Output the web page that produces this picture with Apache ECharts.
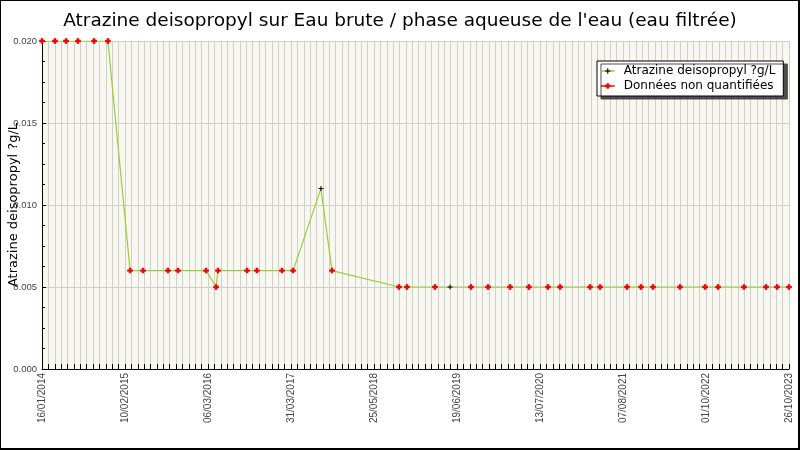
<!DOCTYPE html>
<html>
<head>
<meta charset="utf-8">
<script src="https://cdn.jsdelivr.net/npm/echarts@6/dist/echarts.min.js"></script>
<style>
  html, body { margin: 0; padding: 0; background: #fff; }
  #frame { position: absolute; left: 0; top: 0; width: 800px; height: 450px; box-sizing: border-box;
           border-left: 1px solid #000; border-top: 1px solid #000; border-right: 2px solid #000; border-bottom: 2px solid #000; }
  #chart { position: absolute; left: 0; top: 0; width: 800px; height: 450px; }
</style>
</head>
<body>
<div id="chart"></div>
<div id="frame"></div>
<script>
// ---- data ----
const titleText = "Atrazine deisopropyl sur Eau brute / phase aqueuse de l'eau (eau filtrée)";
const seriesName = "Atrazine deisopropyl ?g/L";
const nqName = "Données non quantifiées";
const startDate = "2014-01-16";
const endDate = "2023-10-26";
const tickLabels = ["16/01/2014", "10/02/2015", "06/03/2016", "31/03/2017", "25/05/2018",
                    "19/06/2019", "13/07/2020", "07/08/2021", "01/10/2022", "26/10/2023"];
const sampleDates = [
  "2014-01-16", "2014-03-19", "2014-05-11", "2014-07-07", "2014-09-22", "2014-11-27",
  "2015-03-13", "2015-05-14", "2015-09-10", "2015-10-28",
  "2016-03-10", "2016-04-27", "2016-05-06", "2016-09-22", "2016-11-08",
  "2017-03-08", "2017-04-30", "2017-09-10", "2017-11-02",
  "2018-09-18", "2018-10-26",
  "2019-03-09", "2019-05-20", "2019-08-28", "2019-11-18",
  "2020-03-02", "2020-05-31", "2020-08-30", "2020-10-27",
  "2021-03-19", "2021-05-06", "2021-09-12", "2021-11-18",
  "2022-01-14", "2022-05-23", "2022-09-20", "2022-11-21",
  "2023-03-25", "2023-07-08", "2023-08-30", "2023-10-26"
];
const sampleValues = [
  0.020, 0.020, 0.020, 0.020, 0.020, 0.020,
  0.006, 0.006, 0.006, 0.006,
  0.006, 0.005, 0.006, 0.006, 0.006,
  0.006, 0.006, 0.011, 0.006,
  0.005, 0.005,
  0.005, 0.005, 0.005, 0.005,
  0.005, 0.005, 0.005, 0.005,
  0.005, 0.005, 0.005, 0.005,
  0.005, 0.005, 0.005, 0.005,
  0.005, 0.005, 0.005, 0.005
];
// 1 = quantified (black cross only), 0 = non quantified (red marker)
const quantified = [
  0, 0, 0, 0, 0, 0,
  0, 0, 0, 0,
  0, 0, 0, 0, 0,
  0, 0, 1, 0,
  0, 0,
  0, 1, 0, 0,
  0, 0, 0, 0,
  0, 0, 0, 0,
  0, 0, 0, 0,
  0, 0, 0, 0
];
const labelSteps = 9;        // labelled intervals on the date axis
const minorPerLabel = 13;    // grid lines per labelled interval

// ---- helpers ----
const DAY = 86400000;
function dayOffset(s) {
  const p = s.split('-').map(Number);
  const q = startDate.split('-').map(Number);
  return (Date.UTC(p[0], p[1] - 1, p[2]) - Date.UTC(q[0], q[1] - 1, q[2])) / DAY;
}
const spanDays = dayOffset(endDate);
const stepDays = spanDays / (labelSteps * minorPerLabel);

const mainData = sampleDates.map((d, i) => [dayOffset(d), sampleValues[i]]);
const nqData = sampleDates.map((d, i) => quantified[i] ? [dayOffset(d), null] : [dayOffset(d), sampleValues[i]]);

const plusPath = 'path://M2,0L3,0L3,2L5,2L5,3L3,3L3,5L2,5L2,3L0,3L0,2L2,2Z';
const redPath = 'path://M2,0L5,0L5,2L7,2L7,5L5,5L5,7L2,7L2,5L0,5L0,2L2,2Z';

const chart = echarts.init(document.getElementById('chart'), null, { renderer: 'canvas' });
chart.setOption({
  animation: false,
  backgroundColor: '#ffffff',
  title: {
    text: titleText,
    left: 'center',
    top: 7,
    textStyle: { fontFamily: 'DejaVu Sans', fontSize: 18.5, fontWeight: 'normal', color: '#000' }
  },
  legend: {
    orient: 'vertical',
    left: 597,
    top: 61,
    width: 187,
    padding: [4, 8, 4, 3],
    itemGap: 3,
    itemWidth: 14,
    itemHeight: 7,
    backgroundColor: '#ffffff',
    borderColor: '#000',
    borderWidth: 1,
    shadowColor: 'rgba(60,60,60,0.9)',
    shadowBlur: 0,
    shadowOffsetX: 4,
    shadowOffsetY: 3,
    textStyle: { fontFamily: 'DejaVu Sans', fontSize: 12, color: '#000', padding: [0, 0, 0, 4] },
    data: [
      { name: seriesName, lineStyle: { color: '#9acd32', width: 1.5, opacity: 1 } },
      { name: nqName, lineStyle: { color: '#ff0000', width: 1.5, opacity: 1 } }
    ]
  },
  grid: { left: 42, right: 11, top: 41, bottom: 81, show: true, backgroundColor: '#f8f8f0', borderWidth: 0,
          containLabel: false, outerBoundsMode: 'none' },
  xAxis: {
    type: 'value',
    min: 0,
    max: spanDays,
    interval: stepDays,
    axisLine: { show: true, lineStyle: { color: '#000', width: 1 } },
    axisTick: { show: true, inside: true, length: 5, lineStyle: { color: '#000' } },
    splitLine: { show: true, lineStyle: { color: '#cfcfcf', width: 1 } },
    axisLabel: {
      rotate: 90,
      margin: 4,
      fontFamily: 'Liberation Sans',
      fontSize: 10,
      color: '#444',
      showMinLabel: true,
      showMaxLabel: true,
      hideOverlap: false,
      formatter: function (v) {
        const k = Math.round(v / stepDays);
        if (k % minorPerLabel === 0) return tickLabels[k / minorPerLabel] || '';
        return '';
      }
    }
  },
  yAxis: {
    type: 'value',
    min: 0,
    max: 0.02,
    interval: 0.005,
    name: seriesName,
    nameLocation: 'middle',
    nameGap: 22,
    nameMoveOverlap: false,
    nameTextStyle: { fontFamily: 'DejaVu Sans', fontSize: 13, color: '#000' },
    axisLine: { show: true, lineStyle: { color: '#000', width: 1 } },
    axisTick: { show: true, inside: true, length: 4, lineStyle: { color: '#000' } },
    minorTick: { show: true, splitNumber: 4, length: 3, lineStyle: { color: '#000' } },
    splitLine: { show: true, lineStyle: { color: '#cfcfcf', width: 1 } },
    axisLabel: {
      margin: 5,
      fontFamily: 'Liberation Sans',
      fontSize: 9.5,
      color: '#444',
      formatter: v => v.toFixed(3)
    }
  },
  series: [
    {
      name: seriesName,
      type: 'line',
      data: mainData,
      symbol: plusPath,
      symbolSize: 5,
      showAllSymbol: true,
      itemStyle: { color: '#000' },
      lineStyle: { color: '#9acd32', width: 1.2 },
      z: 2
    },
    {
      name: nqName,
      type: 'line',
      data: nqData,
      connectNulls: false,
      symbol: redPath,
      symbolSize: 5.5,
      showAllSymbol: true,
      itemStyle: { color: '#ff0000' },
      lineStyle: { color: '#ff0000', width: 0, opacity: 0 },
      z: 3
    }
  ]
});
</script>
</body>
</html>
